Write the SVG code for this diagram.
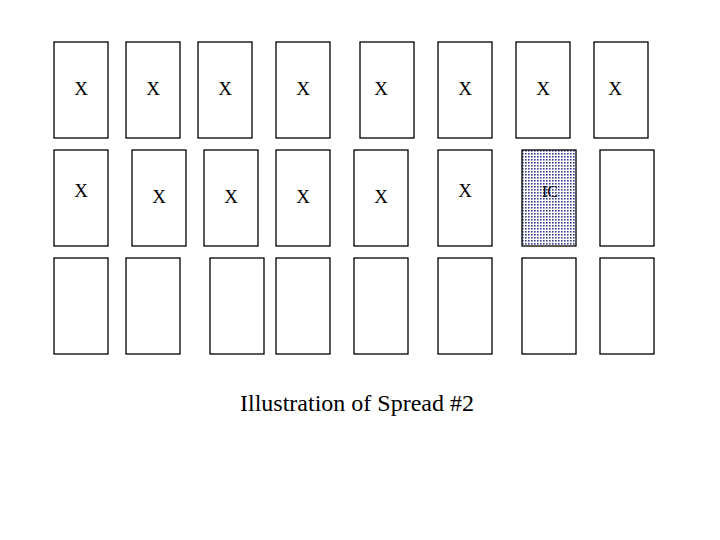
<svg xmlns="http://www.w3.org/2000/svg" width="720" height="540" viewBox="0 0 720 540">
<style>
.b{fill:#fff;stroke:#000;stroke-width:1.3}
.t{font-family:"Liberation Serif","Times New Roman",serif;font-size:19px;text-anchor:middle;fill:#000}
</style>
<defs>
<pattern id="dots" width="3" height="3" patternUnits="userSpaceOnUse">
<rect width="3" height="3" fill="#fff"/>
<rect width="1.6" height="1.6" fill="#3a3f8f"/>
</pattern>
</defs>
<rect width="720" height="540" fill="#fff"/>
<g id="r1c1"><rect class="b" x="54" y="42" width="54" height="96"/><text class="t" x="81" y="95">X</text></g>
<g id="r1c2"><rect class="b" x="126" y="42" width="54" height="96"/><text class="t" x="153" y="95">X</text></g>
<g id="r1c3"><rect class="b" x="198" y="42" width="54" height="96"/><text class="t" x="225" y="95">X</text></g>
<g id="r1c4"><rect class="b" x="276" y="42" width="54" height="96"/><text class="t" x="303" y="95">X</text></g>
<g id="r1c5"><rect class="b" x="360" y="42" width="54" height="96"/><text class="t" x="381" y="95">X</text></g>
<g id="r1c6"><rect class="b" x="438" y="42" width="54" height="96"/><text class="t" x="465" y="95">X</text></g>
<g id="r1c7"><rect class="b" x="516" y="42" width="54" height="96"/><text class="t" x="543" y="95">X</text></g>
<g id="r1c8"><rect class="b" x="594" y="42" width="54" height="96"/><text class="t" x="615" y="95">X</text></g>

<g id="r2c1"><rect class="b" x="54" y="150" width="54" height="96"/><text class="t" x="81" y="197">X</text></g>
<g id="r2c2"><rect class="b" x="132" y="150" width="54" height="96"/><text class="t" x="159" y="203">X</text></g>
<g id="r2c3"><rect class="b" x="204" y="150" width="54" height="96"/><text class="t" x="231" y="203">X</text></g>
<g id="r2c4"><rect class="b" x="276" y="150" width="54" height="96"/><text class="t" x="303" y="203">X</text></g>
<g id="r2c5"><rect class="b" x="354" y="150" width="54" height="96"/><text class="t" x="381" y="203">X</text></g>
<g id="r2c6"><rect class="b" x="438" y="150" width="54" height="96"/><text class="t" x="465" y="197">X</text></g>
<g id="r2c7"><rect x="522" y="150" width="54" height="96" fill="url(#dots)" stroke="#000" stroke-width="1.3"/><text class="t" x="550" y="197" style="font-size:16px">IC</text></g>
<g id="r2c8"><rect class="b" x="600" y="150" width="54" height="96"/></g>

<g id="r3c1"><rect class="b" x="54" y="258" width="54" height="96"/></g>
<g id="r3c2"><rect class="b" x="126" y="258" width="54" height="96"/></g>
<g id="r3c3"><rect class="b" x="210" y="258" width="54" height="96"/></g>
<g id="r3c4"><rect class="b" x="276" y="258" width="54" height="96"/></g>
<g id="r3c5"><rect class="b" x="354" y="258" width="54" height="96"/></g>
<g id="r3c6"><rect class="b" x="438" y="258" width="54" height="96"/></g>
<g id="r3c7"><rect class="b" x="522" y="258" width="54" height="96"/></g>
<g id="r3c8"><rect class="b" x="600" y="258" width="54" height="96"/></g>

<g id="connectors"></g>
<text x="357" y="411" style="font-family:'Liberation Serif','Times New Roman',serif;font-size:24px;text-anchor:middle;fill:#000">Illustration of Spread #2</text>
</svg>
